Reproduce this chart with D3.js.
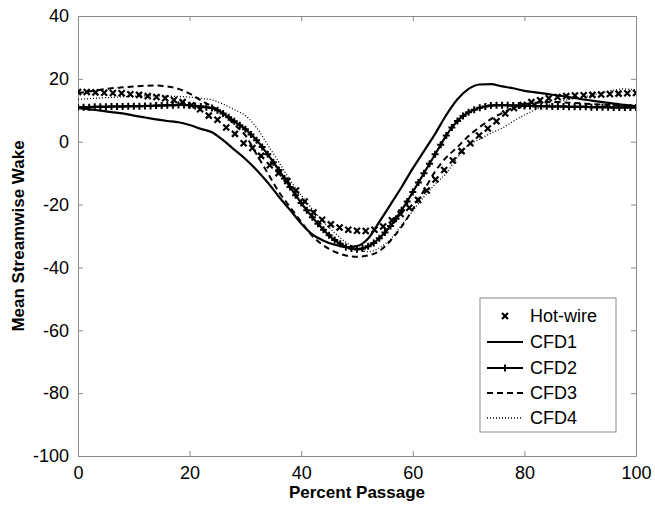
<!DOCTYPE html>
<html>
<head>
<meta charset="utf-8">
<script src="https://cdn.jsdelivr.net/npm/d3@7"></script>
<style>
  body { margin: 0; background: #fff; }
  text { font-family: "Liberation Sans", Arial, sans-serif; }
</style>
</head>
<body>
<div id="chart-area"></div>
<script>
/*
*    wake chart
*/

// hot-wire samples (every 100/64 %)
var hotPassage = d3.range(65).map((i) => { return i * 100 / 64; });
var hotWire = [15.8, 15.8, 15.7, 15.6, 15.5, 15.4, 15.1, 14.9, 14.5, 14.2,
    13.8, 13.3, 12.6, 11.6, 10.3, 8.3, 7.0, 4.5, 2.5, -0.5,
    -2.0, -4.5, -7.5, -10.0, -12.5, -15.5, -19.0, -22.5, -24.8, -26.3,
    -27.3, -28.0, -28.3, -28.4, -28.0, -27.0, -25.0, -23.0, -21.0, -18.5,
    -15.5, -12.0, -9.0, -6.0, -3.0, -0.5, 2.0, 4.2, 6.5, 9.0,
    10.7, 11.7, 12.6, 13.2, 13.8, 14.2, 14.5, 14.7, 14.8, 14.9,
    15.0, 15.2, 15.3, 15.4, 15.5];

// CFD1, CFD3, CFD4 sampled every 2 %
var cfdPassage = d3.range(0, 101, 2);
var cfd1 = [10.7, 10.3, 9.9, 9.4, 9.0, 8.3, 7.7, 7.1, 6.6, 6.2,
    5.3, 4.1, 3.0, 0.5, -2.5, -5.5, -9.0, -13.0, -17.5, -21.7,
    -26.0, -29.5, -31.5, -32.8, -33.5, -33.2, -30.8, -25.5, -20.0, -14.4,
    -8.5, -3.0, 2.5, 8.5, 13.5, 16.8, 18.2, 18.3, 17.6, 17.0,
    16.2, 15.7, 15.2, 14.7, 14.2, 13.6, 13.1, 12.6, 12.1, 11.7, 11.3];
var cfd3 = [15.5, 16.0, 16.5, 17.0, 17.3, 17.6, 17.8, 17.9, 17.6, 16.8,
    15.3, 13.2, 11.2, 9.1, 5.5, 2.0, -4.0, -10.0, -16.0, -20.8,
    -25.5, -30.0, -33.0, -35.0, -36.2, -36.6, -36.2, -34.8, -31.5, -27.0,
    -21.5, -15.5, -9.5, -5.0, -1.7, 1.8, 4.7, 7.2, 9.1, 10.8,
    11.9, 12.4, 12.6, 12.6, 12.4, 12.2, 12.0, 11.8, 11.6, 11.4, 11.2];
var cfd4 = [13.5, 13.7, 13.9, 14.1, 14.3, 14.5, 14.6, 14.6, 14.5, 14.4,
    14.2, 13.8, 13.3, 12.0, 10.2, 8.3, 4.5, -1.0, -6.5, -12.2,
    -17.0, -21.5, -25.5, -29.0, -32.0, -34.0, -35.0, -33.8, -31.0, -26.5,
    -22.0, -17.5, -13.5, -10.0, -5.0, -1.0, 0.8, 2.7, 4.3, 6.5,
    8.5, 10.2, 11.6, 12.7, 13.4, 14.0, 14.8, 15.6, 16.4, 16.8, 16.5];

// CFD2 sampled every 1 % (marker at each sample)
var cfd2Passage = d3.range(0, 101, 1);
var cfd2 = [11.0, 11.0, 11.0, 11.1, 11.1, 11.1, 11.2, 11.2, 11.2, 11.3,
    11.3, 11.3, 11.4, 11.4, 11.5, 11.5, 11.6, 11.6, 11.7, 11.7,
    11.6, 11.4, 11.2, 11.0, 10.7, 10.0, 9.0, 7.8, 6.5, 5.2,
    4.0, 2.3, 0.5, -1.7, -4.0, -6.5, -9.0, -11.7, -14.4, -17.0,
    -19.5, -21.8, -24.0, -26.1, -28.0, -29.8, -31.3, -32.5, -33.5, -34.0,
    -34.2, -34.0, -33.3, -32.2, -30.7, -28.9, -26.8, -24.5, -21.8, -19.0,
    -16.0, -13.0, -10.0, -7.0, -4.0, -1.0, 2.0, 4.5, 6.6, 8.2,
    9.4, 10.2, 10.8, 11.2, 11.5, 11.6, 11.6, 11.6, 11.5, 11.5,
    11.4, 11.4, 11.3, 11.3, 11.3, 11.2, 11.2, 11.2, 11.1, 11.1,
    11.1, 11.1, 11.0, 11.0, 11.0, 11.0, 10.9, 10.9, 10.9, 10.9, 10.9];

var xTicks = [0, 20, 40, 60, 80, 100];
var yTicks = [-100, -80, -60, -40, -20, 0, 20, 40];
var legendNames = ["Hot-wire", "CFD1", "CFD2", "CFD3", "CFD4"];

var margin = {top: 16, right: 19, bottom: 49, left: 78};
var width = 558;
var height = 440;

var svg = d3.select("#chart-area")
    .append("svg")
    .attr("width", 655)
    .attr("height", 505);

var g = svg.append("g")
    .attr("transform", "translate(" + margin.left + ", " + margin.top + ")");

var x = d3.scaleLinear().domain([0, 100]).range([0, width]);
var y = d3.scaleLinear().domain([-100, 40]).range([height, 0]);

var axisColor = "#8a8a8a";

// plain hyphen for negatives, like the original
var fmt = (d) => { return String(d); };

// axes (ticks pointing inward, box on)
function styleAxis(sel) {
    sel.select(".domain").attr("stroke", axisColor);
    sel.selectAll(".tick line").attr("stroke", axisColor);
    sel.selectAll("text")
        .attr("fill", "#000")
        .attr("font-size", "18px")
        .attr("font-family", "'Liberation Sans', Arial, sans-serif");
}

g.append("g")
    .attr("transform", "translate(0, " + height + ")")
    .call(d3.axisBottom(x).tickValues(xTicks).tickFormat(fmt).tickSizeInner(-5).tickSizeOuter(0).tickPadding(10))
    .call(styleAxis);

g.append("g")
    .call(d3.axisTop(x).tickValues(xTicks).tickSizeInner(-5).tickSizeOuter(0).tickFormat(""))
    .call(styleAxis);

g.append("g")
    .call(d3.axisLeft(y).tickValues(yTicks).tickFormat(fmt).tickSizeInner(-5).tickSizeOuter(0).tickPadding(9))
    .call(styleAxis);

g.append("g")
    .attr("transform", "translate(" + width + ", 0)")
    .call(d3.axisRight(y).tickValues(yTicks).tickSizeInner(-5).tickSizeOuter(0).tickFormat(""))
    .call(styleAxis);

// lines
var clip = g.append("clipPath").attr("id", "plot-clip")
    .append("rect").attr("width", width).attr("height", height);

var plot = g.append("g").attr("clip-path", "url(#plot-clip)");

function lineFor(xs) {
    return d3.line()
        .x((d, i) => { return x(xs[i]); })
        .y((d) => { return y(d); })
        .curve(d3.curveMonotoneX);
}

plot.append("path")
    .attr("d", lineFor(cfdPassage)(cfd4))
    .attr("fill", "none")
    .attr("stroke", "#000")
    .attr("stroke-width", 1.3)
    .attr("stroke-dasharray", "1,2");

plot.append("path")
    .attr("d", lineFor(cfdPassage)(cfd3))
    .attr("fill", "none")
    .attr("stroke", "#000")
    .attr("stroke-width", 2)
    .attr("stroke-dasharray", "6,4");

plot.append("path")
    .attr("d", lineFor(cfdPassage)(cfd1))
    .attr("fill", "none")
    .attr("stroke", "#000")
    .attr("stroke-width", 2.2);

plot.append("path")
    .attr("d", lineFor(cfd2Passage)(cfd2))
    .attr("fill", "none")
    .attr("stroke", "#000")
    .attr("stroke-width", 2.2);

// + markers on CFD2
var plus = "M-3.5,0H3.5M0,-3.5V3.5";
plot.selectAll(".plus")
    .data(cfd2)
    .enter()
    .append("path")
        .attr("class", "plus")
        .attr("transform", (d, i) => { return "translate(" + x(cfd2Passage[i]) + "," + y(d) + ")"; })
        .attr("d", plus)
        .attr("stroke", "#000")
        .attr("stroke-width", 2);

// x markers for hot-wire
var cross = "M-3,-3L3,3M-3,3L3,-3";
plot.selectAll(".cross")
    .data(hotWire)
    .enter()
    .append("path")
        .attr("class", "cross")
        .attr("transform", (d, i) => { return "translate(" + x(hotPassage[i]) + "," + y(d) + ")"; })
        .attr("d", cross)
        .attr("stroke", "#000")
        .attr("stroke-width", 2.2);

// legend
var legend = svg.append("g").attr("transform", "translate(480, 298)");

legend.append("rect")
    .attr("width", 136)
    .attr("height", 134)
    .attr("fill", "#fff")
    .attr("stroke", axisColor)
    .attr("stroke-width", 1);

var rowY = [18, 44, 70, 95, 120];

legendNames.forEach((name, i) => {
    var row = legend.append("g").attr("transform", "translate(0, " + rowY[i] + ")");
    if (i == 0) {
        row.append("path").attr("transform", "translate(25,0)").attr("d", cross)
            .attr("stroke", "#000").attr("stroke-width", 2.2);
    } else {
        var ln = row.append("line")
            .attr("x1", 7).attr("x2", 43).attr("y1", 0).attr("y2", 0)
            .attr("stroke", "#000");
        if (i == 1) ln.attr("stroke-width", 2.2);
        if (i == 2) {
            ln.attr("stroke-width", 2.2);
            row.append("path").attr("transform", "translate(25,0)").attr("d", plus)
                .attr("stroke", "#000").attr("stroke-width", 2);
        }
        if (i == 3) ln.attr("stroke-width", 2).attr("stroke-dasharray", "6,4");
        if (i == 4) ln.attr("stroke-width", 1.3).attr("stroke-dasharray", "1,2");
    }
    row.append("text")
        .attr("x", 50)
        .attr("y", 0)
        .attr("dy", "0.35em")
        .attr("font-size", "18px")
        .text(name);
});

// axis labels
svg.append("text")
    .attr("x", margin.left + width / 2)
    .attr("y", 498)
    .attr("font-size", "17px")
    .attr("font-weight", "bold")
    .attr("text-anchor", "middle")
    .text("Percent Passage");

svg.append("text")
    .attr("transform", "translate(24, " + (margin.top + height / 2) + ") rotate(-90)")
    .attr("font-size", "17px")
    .attr("font-weight", "bold")
    .attr("text-anchor", "middle")
    .text("Mean Streamwise Wake");
</script>
</body>
</html>
